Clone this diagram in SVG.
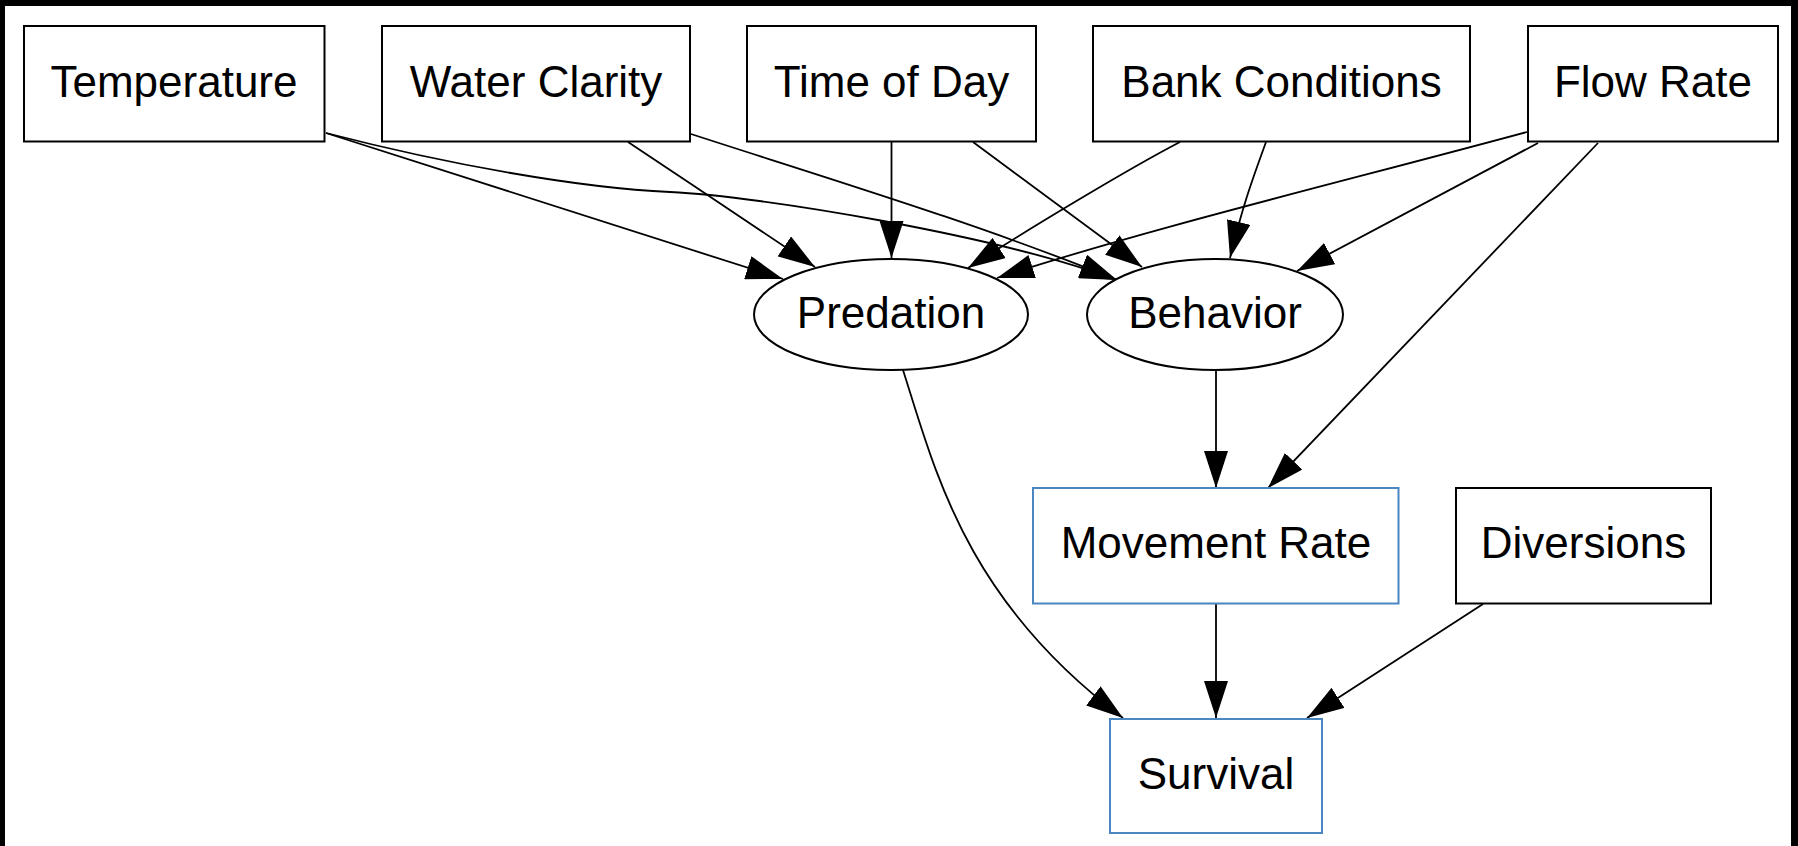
<svg xmlns="http://www.w3.org/2000/svg" width="1798" height="846" viewBox="0 0 1798 846">
<style>
.box{fill:#ffffff;stroke:#000000;stroke-width:2}
.blue{fill:#ffffff;stroke:#4a86c0;stroke-width:2}
.lbl{font-family:"Liberation Sans",Arial,sans-serif;font-size:44px;fill:#000000;text-anchor:middle}
.edge{fill:none;stroke:#000000;stroke-width:1.8;marker-end:url(#arr)}
</style>
<defs>
<marker id="arr" markerUnits="userSpaceOnUse" markerWidth="37" markerHeight="24" viewBox="0 0 37 24" refX="37" refY="12" orient="auto">
<path d="M0,0 L37,12 L0,24 z" fill="#000000"/>
</marker>
</defs>
<rect x="0" y="0" width="1798" height="846" fill="#000000"/>
<rect x="5" y="6" width="1786" height="840" fill="#ffffff"/>
<g id="connectors">
<path class="edge" d="M326,133 L783,279"/>
<path class="edge" d="M326,133 C450,165 580,188 670,192 C760,196 1000,236 1117,280"/>
<path class="edge" d="M628,142 C690,183 760,230 815,267"/>
<path class="edge" d="M691,134 C820,176 980,224 1117,280"/>
<path class="edge" d="M891.5,142 L891.5,258"/>
<path class="edge" d="M973,142 L1142,267"/>
<path class="edge" d="M1180,142 C1130,168 1030,228 968,268"/>
<path class="edge" d="M1266,142 C1256,170 1244,200 1230,258"/>
<path class="edge" d="M1527,132 C1350,180 1150,228 997,278"/>
<path class="edge" d="M1538,143 L1297,271"/>
<path class="edge" d="M1598,143 L1268,488"/>
<path class="edge" d="M903,370 C935,470 965,600 1123,718"/>
<path class="edge" d="M1216,370 L1216,488"/>
<path class="edge" d="M1216,604 L1216,718"/>
<path class="edge" d="M1483,604 L1307,718"/>
</g>
<g id="temperature">
<rect class="box" x="24" y="26" width="300.5" height="115.5"/>
<text class="lbl" x="174" y="97">Temperature</text>
</g>
<g id="water-clarity">
<rect class="box" x="382" y="26" width="308" height="115.5"/>
<text class="lbl" x="536" y="97">Water Clarity</text>
</g>
<g id="time-of-day">
<rect class="box" x="747" y="26" width="289" height="115.5"/>
<text class="lbl" x="891.5" y="97">Time of Day</text>
</g>
<g id="bank-conditions">
<rect class="box" x="1093" y="26" width="377" height="115.5"/>
<text class="lbl" x="1281.5" y="97">Bank Conditions</text>
</g>
<g id="flow-rate">
<rect class="box" x="1528" y="26" width="250" height="115.5"/>
<text class="lbl" x="1653" y="97">Flow Rate</text>
</g>
<g id="predation">
<ellipse class="box" cx="891" cy="314.5" rx="137" ry="55.5"/>
<text class="lbl" x="891" y="328">Predation</text>
</g>
<g id="behavior">
<ellipse class="box" cx="1215" cy="314.5" rx="128" ry="55.5"/>
<text class="lbl" x="1215" y="328">Behavior</text>
</g>
<g id="movement-rate">
<rect class="blue" x="1033" y="488" width="365.5" height="115.5"/>
<text class="lbl" x="1216" y="558">Movement Rate</text>
</g>
<g id="diversions">
<rect class="box" x="1456" y="488" width="255" height="115.5"/>
<text class="lbl" x="1583.5" y="558">Diversions</text>
</g>
<g id="survival">
<rect class="blue" x="1110" y="719" width="212" height="114"/>
<text class="lbl" x="1216" y="789">Survival</text>
</g>
</svg>
